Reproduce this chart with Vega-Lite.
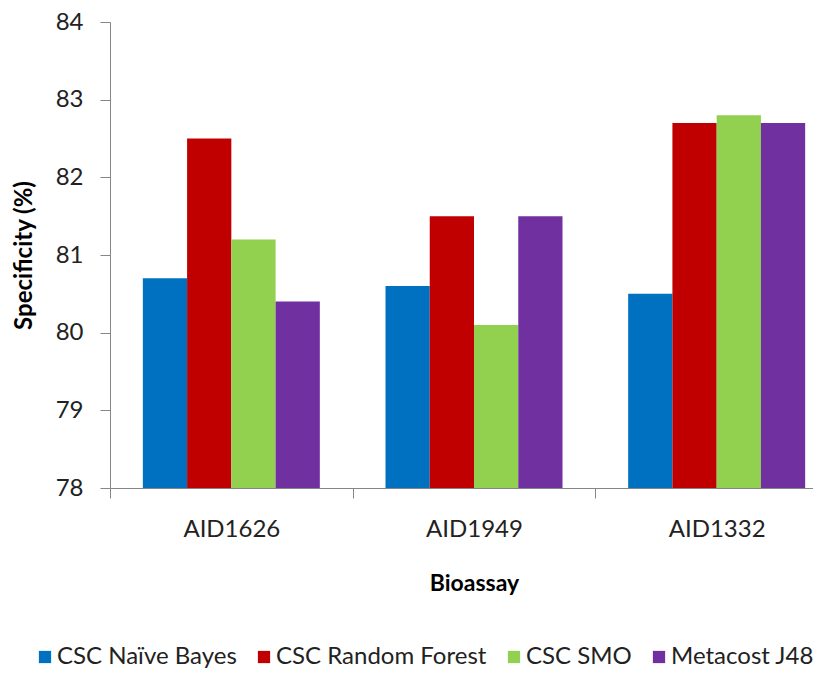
{
  "$schema": "https://vega.github.io/schema/vega-lite/v6.json",
  "width": 703,
  "height": 466,
  "autosize": {"type": "none"},
  "padding": {"left": 110, "top": 22, "right": 0, "bottom": 185},
  "background": "white",
  "config": {"view": {"stroke": null}, "font": "Lato"},
  "data": {
    "values": [
      {"bioassay": "AID1626", "method": "CSC Naïve Bayes", "specificity": 80.7},
      {"bioassay": "AID1626", "method": "CSC Random Forest", "specificity": 82.5},
      {"bioassay": "AID1626", "method": "CSC SMO", "specificity": 81.2},
      {"bioassay": "AID1626", "method": "Metacost J48", "specificity": 80.4},
      {"bioassay": "AID1949", "method": "CSC Naïve Bayes", "specificity": 80.6},
      {"bioassay": "AID1949", "method": "CSC Random Forest", "specificity": 81.5},
      {"bioassay": "AID1949", "method": "CSC SMO", "specificity": 80.1},
      {"bioassay": "AID1949", "method": "Metacost J48", "specificity": 81.5},
      {"bioassay": "AID1332", "method": "CSC Naïve Bayes", "specificity": 80.5},
      {"bioassay": "AID1332", "method": "CSC Random Forest", "specificity": 82.7},
      {"bioassay": "AID1332", "method": "CSC SMO", "specificity": 82.8},
      {"bioassay": "AID1332", "method": "Metacost J48", "specificity": 82.7}
    ]
  },
  "mark": {"type": "bar"},
  "encoding": {
    "x": {
      "field": "bioassay",
      "type": "nominal",
      "sort": ["AID1626", "AID1949", "AID1332"],
      "scale": {"range": [0, 728], "paddingInner": 0, "paddingOuter": 0},
      "axis": {
        "title": "Bioassay",
        "tickBand": "extent",
        "labelAngle": 0,
        "tickSize": 10,
        "domainColor": "#868686",
        "tickColor": "#868686",
        "labelColor": "#222222",
        "labelFontSize": 24,
        "labelPadding": 19,
        "titleFontSize": 23,
        "titleFontWeight": "bold",
        "titleColor": "#000000",
        "titleY": 95,
        "titleBaseline": "middle"
      }
    },
    "xOffset": {
      "field": "method",
      "type": "nominal",
      "sort": ["CSC Naïve Bayes", "CSC Random Forest", "CSC SMO", "Metacost J48"],
      "scale": {"paddingInner": 0, "paddingOuter": 0.742}
    },
    "y": {
      "field": "specificity",
      "type": "quantitative",
      "scale": {"domain": [78, 84], "zero": false, "nice": false},
      "axis": {
        "title": "Specificity (%)",
        "values": [78, 79, 80, 81, 82, 83, 84],
        "grid": false,
        "tickSize": 10,
        "domainColor": "#868686",
        "tickColor": "#868686",
        "labelColor": "#222222",
        "labelFontSize": 24,
        "labelPadding": 17,
        "titleFontSize": 24,
        "titleFontWeight": "bold",
        "titleColor": "#000000",
        "titleX": -86,
        "titleY": 233,
        "titleAngle": -90,
        "titleAlign": "center",
        "titleBaseline": "middle"
      }
    },
    "y2": {"datum": 78},
    "color": {
      "field": "method",
      "type": "nominal",
      "sort": ["CSC Naïve Bayes", "CSC Random Forest", "CSC SMO", "Metacost J48"],
      "scale": {
        "domain": ["CSC Naïve Bayes", "CSC Random Forest", "CSC SMO", "Metacost J48"],
        "range": ["#0070C0", "#C00000", "#92D050", "#7030A0"]
      },
      "legend": {
        "title": null,
        "orient": "none",
        "legendX": -77,
        "legendY": 623,
        "direction": "horizontal",
        "symbolType": "square",
        "symbolSize": 150,
        "symbolStrokeWidth": 0,
        "labelFontSize": 24,
        "labelColor": "#222222",
        "labelOffset": 0,
        "columnPadding": 15,
        "labelLimit": 400
      }
    }
  }
}
